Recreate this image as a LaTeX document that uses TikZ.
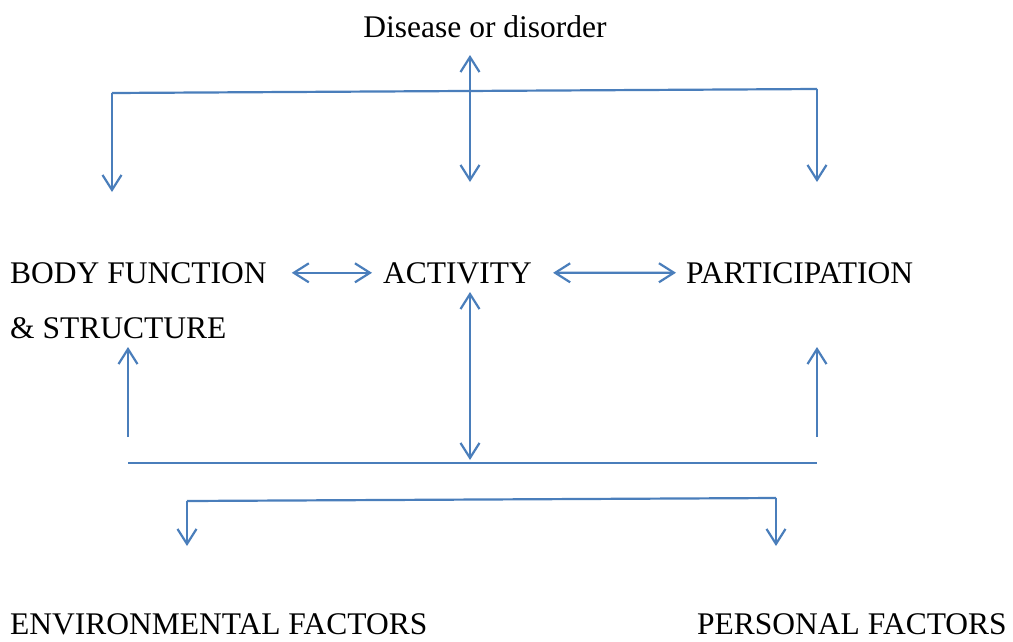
\documentclass[tikz,border=0pt]{standalone}
\usepackage{fontspec}
\setmainfont{Liberation Serif}
\usetikzlibrary{arrows.meta}
\definecolor{linkblue}{HTML}{4A7EBB}
\tikzset{
  label/.style={inner sep=0pt, font=\fontsize{31.5}{38}\selectfont},
  bar/.style={draw=linkblue, line width=2.2pt},
  onelink/.style={bar, -{Straight Barb[length=15pt,width=19pt]}},
  twolink/.style={bar, {Straight Barb[length=15pt,width=19pt]}-{Straight Barb[length=15pt,width=19pt]}}
}
\begin{document}
\begin{tikzpicture}[x=1pt, y=-1pt]
            \useasboundingbox (0,0) rectangle (1013,641);
            % texts
            \node[label, anchor=base] (dis) at (485,37) {Disease or disorder};
            \node[label, anchor=base west] (body) at (10,283) {BODY FUNCTION};
            \node[label, anchor=base west] (struct) at (10,338) {\& STRUCTURE};
            \node[label, anchor=base west] (act) at (383,283) {ACTIVITY};
            \node[label, anchor=base west] (part) at (686,283) {PARTICIPATION};
            \node[label, anchor=base west] (env) at (10,634) {ENVIRONMENTAL FACTORS};
            \node[label, anchor=base west] (pers) at (697,634) {PERSONAL FACTORS};
            % corners of the bars
            \coordinate (tl) at (112,93);
            \coordinate (tr) at (817,89);
            \coordinate (ml) at (128,463);
            \coordinate (mr) at (817,463);
            \coordinate (bl) at (187,501);
            \coordinate (br) at (776,498);
            % top part
            \draw[bar] (tl) -- (tr);
            \draw[twolink] (470,55) -- (470,182);
            \draw[onelink] (tl) -- (112,192);
            \draw[onelink] (tr) -- (817,182);
            % middle row
            \draw[twolink] ([xshift=25pt]body.east |- act.center) -- ([xshift=-11pt]act.west);
            \draw[twolink] ([xshift=21pt]act.east) -- ([xshift=-10pt]part.west);
            \draw[twolink] (470,292) -- (470,460);
            % lower part
            \draw[bar] (ml) -- (mr);
            \draw[onelink] (128,437) -- (128,347);
            \draw[onelink] (817,437) -- (817,347);
            \draw[bar] (bl) -- (br);
            \draw[onelink] (bl) -- (187,546);
            \draw[onelink] (br) -- (776,546);
        \end{tikzpicture}
\end{document}
